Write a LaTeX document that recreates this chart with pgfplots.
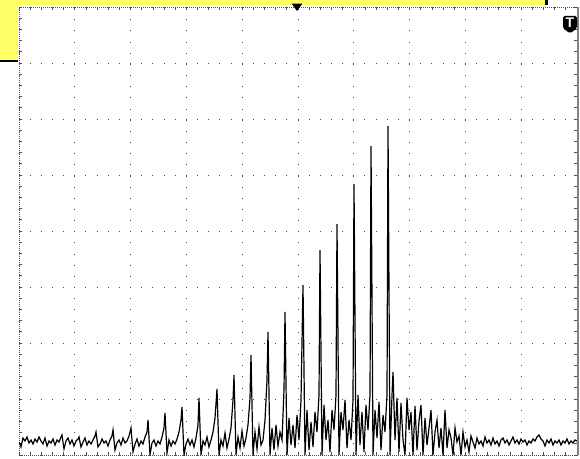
\documentclass[border=0pt]{standalone}
\usepackage{pgfplots}
\usepackage{pgfplotstable}
\pgfplotsset{compat=1.18}
\usepackage{fontspec}
\setmainfont{Liberation Sans}
\definecolor{scopeyellow}{RGB}{255,255,102}
\definecolor{gridgray}{RGB}{80,80,80}

% Trace as captured on the display: column position and row position in screen pixels
\pgfplotstableread{
px py
19 442
21 447
23 438
25 441
27 437
29 443
31 440
33 444
35 439
37 442
39 437
41 441
43 444
45 438
47 446
49 441
51 443
53 439
55 445
57 440
59 442
61 437
62 435
64 449
66 441
68 438
70 444
72 440
74 446
76 441
78 439
79 437
81 447
83 442
85 438
87 445
89 441
91 444
93 440
95 436
96 432
98 447
100 444
102 439
104 443
106 441
108 446
110 440
112 436
113 430
115 450
117 443
119 440
121 445
123 438
125 443
127 441
129 436
131 428
133 452
135 444
137 439
139 446
141 441
143 444
145 437
147 432
148 420
150 455
152 443
154 440
156 446
158 441
160 444
162 437
164 428
165 413
167 453
169 440
171 446
173 441
175 444
177 439
179 432
181 420
182 407
184 455
186 444
188 439
190 445
192 440
194 447
196 438
198 425
199 398
201 455
203 441
205 445
207 437
209 447
211 440
213 432
215 418
217 389
219 455
221 440
223 446
225 433
227 448
229 439
231 428
233 400
234 375
236 455
238 437
240 448
242 431
244 446
246 438
248 425
250 398
251 355
253 455
255 432
257 449
259 427
261 445
263 440
265 420
267 380
268 332
270 455
272 428
274 450
276 425
278 446
280 432
282 440
284 390
285 312
287 455
289 418
291 445
293 425
295 448
297 415
299 440
301 400
303 285
305 455
307 410
309 450
311 422
313 447
315 412
317 432
319 395
320 250
322 455
324 405
326 440
328 420
330 452
332 410
334 430
336 395
337 224
339 455
341 412
343 430
345 400
347 448
349 420
351 440
353 400
354 184
356 455
358 395
360 445
362 412
364 452
366 405
368 430
370 395
371 146
373 455
375 410
377 438
379 402
381 450
383 415
385 432
387 395
388 126
390 455
392 395
393 372
395 440
397 398
399 452
401 403
403 440
405 455
407 398
409 430
411 412
413 455
415 406
417 450
419 421
421 405
423 455
425 418
427 445
429 428
431 410
433 455
435 432
437 420
439 448
441 428
443 455
445 410
447 448
449 430
451 438
453 455
455 428
457 442
459 436
461 455
463 432
465 447
467 440
469 452
471 436
473 442
475 448
477 438
479 444
481 441
483 446
485 437
487 443
489 440
491 445
493 438
495 444
497 441
499 446
501 440
503 438
505 443
507 440
509 445
511 441
513 437
515 443
517 440
519 444
521 439
523 442
525 440
527 445
529 441
531 443
533 439
535 441
537 437
539 435
541 439
543 441
545 446
547 440
549 443
551 439
553 445
555 441
557 443
559 440
561 445
563 441
565 443
567 439
569 444
571 441
573 443
575 440
577 441
}\trace

\begin{document}
\begin{tikzpicture}
\useasboundingbox (-14.25pt,-2.25pt) rectangle (420.75pt,341.25pt);
% readout bars
\fill[scopeyellow] (-14.25pt,341.25pt) rectangle (394.5pt,337.5pt);
\fill[scopeyellow] (-14.25pt,341.25pt) rectangle (-0.75pt,297pt);
\fill[black] (-14.25pt,296.4pt) rectangle (-0.75pt,295pt);
\fill[black] (394.5pt,341.25pt) rectangle (396.75pt,337.5pt);
\begin{axis}[
  at={(0pt,0pt)}, anchor=south west, scale only axis,
  width=418.5pt, height=336pt,
  xmin=0, xmax=10, ymin=0, ymax=8,
  xtick={0,...,10}, ytick={0,...,8},
  minor tick num=4,
  xticklabels={}, yticklabels={},
  tick align=inside, major tick length=2.5pt, minor tick length=2.5pt,
  tick style={gridgray, line width=0.6pt},
  grid=major,
  major grid style={gridgray, line width=0.75pt, dash pattern=on 0.75pt off 7.62pt, dash phase=0.375pt},
  axis line style={gridgray, line width=0.75pt, dash pattern=on 0.75pt off 0.75pt},
]
\addplot[black, line width=0.9pt, line join=miter, mark=none]
  table[x expr=(\thisrow{px}-19)/55.8, y expr=(455-\thisrow{py})/56] {\trace};
\end{axis}
% right edge of the graticule
\draw[gray, line width=1.5pt] (419pt,0pt) -- (419pt,336pt);
% trigger position marker
\fill[black] (204.5pt,338.5pt) -- (212.5pt,338.5pt) -- (208.5pt,333pt) -- cycle;
% trigger badge
\fill[black, rounded corners=1.2pt] (408pt,329.25pt) -- (418.5pt,329.25pt) -- (418.5pt,320pt) -- (413.25pt,316.2pt) -- (408pt,320pt) -- cycle;
\node[white, font=\bfseries\fontsize{10.5}{10.5}\selectfont, inner sep=0pt] at (413.25pt,324pt) {T};
\end{tikzpicture}
\end{document}
